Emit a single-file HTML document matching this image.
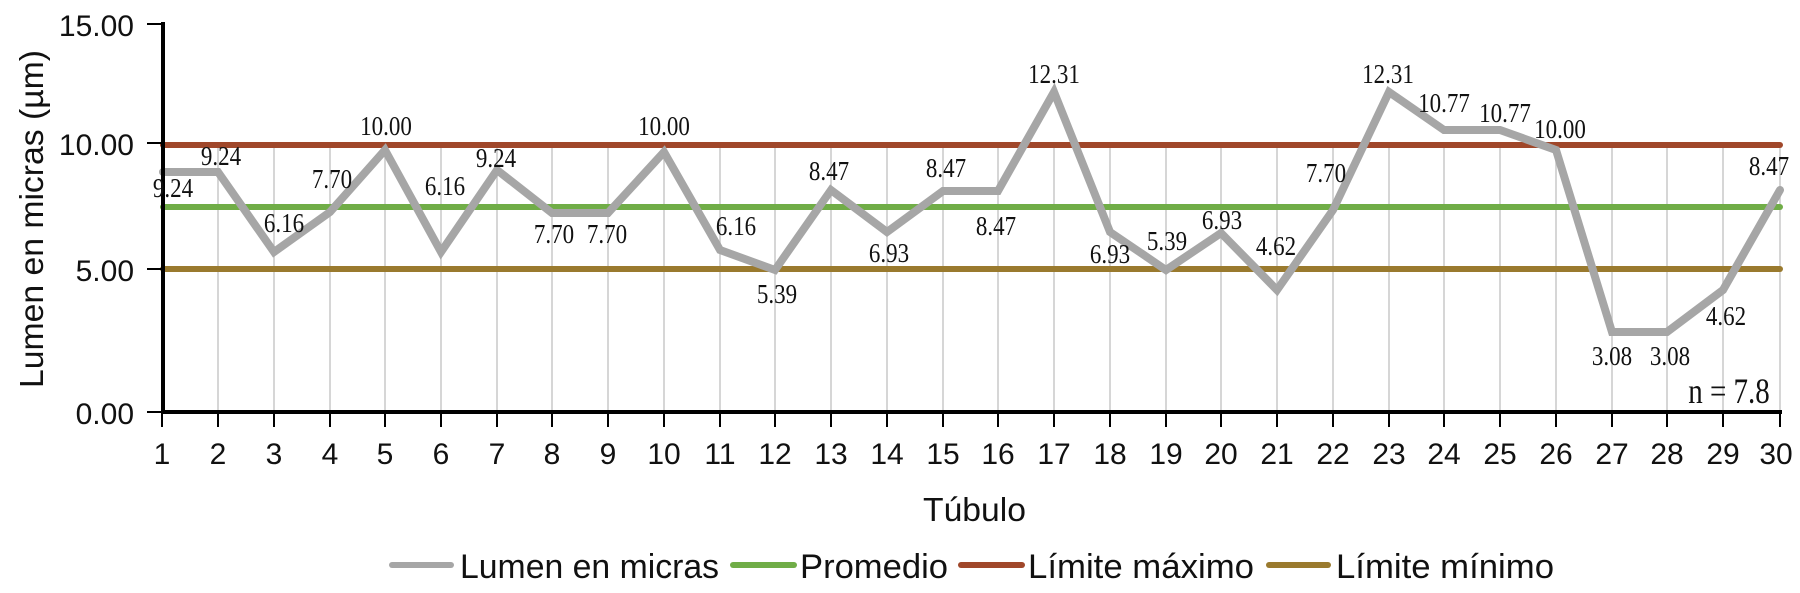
<!DOCTYPE html>
<html><head><meta charset="utf-8"><style>
html,body{margin:0;padding:0;background:#fff;}
svg{display:block;}
.s{font-family:"Liberation Sans",sans-serif;fill:#111;}
.d{font-family:"Liberation Serif",serif;font-size:23px;fill:#111;text-anchor:middle;}
</style></head><body>
<svg width="1800" height="593" viewBox="0 0 1800 593" xmlns="http://www.w3.org/2000/svg">
<g stroke="#c8c8c8" stroke-width="1.5">
<line x1="218" y1="148" x2="218" y2="412"/><line x1="274" y1="148" x2="274" y2="412"/><line x1="330" y1="148" x2="330" y2="412"/><line x1="385" y1="148" x2="385" y2="412"/><line x1="441" y1="148" x2="441" y2="412"/><line x1="497" y1="148" x2="497" y2="412"/><line x1="552" y1="148" x2="552" y2="412"/><line x1="608" y1="148" x2="608" y2="412"/><line x1="664" y1="148" x2="664" y2="412"/><line x1="720" y1="148" x2="720" y2="412"/><line x1="775" y1="148" x2="775" y2="412"/><line x1="831" y1="148" x2="831" y2="412"/><line x1="887" y1="148" x2="887" y2="412"/><line x1="943" y1="148" x2="943" y2="412"/><line x1="998" y1="148" x2="998" y2="412"/><line x1="1054" y1="148" x2="1054" y2="412"/><line x1="1110" y1="148" x2="1110" y2="412"/><line x1="1166" y1="148" x2="1166" y2="412"/><line x1="1221" y1="148" x2="1221" y2="412"/><line x1="1277" y1="148" x2="1277" y2="412"/><line x1="1333" y1="148" x2="1333" y2="412"/><line x1="1389" y1="148" x2="1389" y2="412"/><line x1="1444" y1="148" x2="1444" y2="412"/><line x1="1500" y1="148" x2="1500" y2="412"/><line x1="1556" y1="148" x2="1556" y2="412"/><line x1="1612" y1="148" x2="1612" y2="412"/><line x1="1667" y1="148" x2="1667" y2="412"/><line x1="1723" y1="148" x2="1723" y2="412"/><line x1="1780" y1="148" x2="1780" y2="412"/>
</g>
<g stroke-width="6" stroke-linecap="round">
<line x1="163" y1="145" x2="1780" y2="145" stroke="#a0472a"/>
<line x1="163" y1="207" x2="1780" y2="207" stroke="#70ad47"/>
<line x1="163" y1="269" x2="1780" y2="269" stroke="#9a7a2e"/>
</g>
<polyline fill="none" stroke="#a6a6a6" stroke-width="8" stroke-linejoin="miter" stroke-linecap="round" points="163,172 218,172 274,252 330,212 385,150 441,252 497,170 552,213 608,213 664,152 720,250 775,270 831,190 887,232 943,191 998,191 1054,92 1110,232 1166,270 1221,233 1277,290 1333,210 1389,92 1444,130 1500,130 1556,150 1612,332 1667,332 1723,290 1780,190"/>
<g stroke="#000">
<line x1="163" y1="22" x2="163" y2="414" stroke-width="4"/>
<line x1="161" y1="412" x2="1782" y2="412" stroke-width="4"/>
<g stroke-width="2">
<line x1="147" y1="24" x2="163" y2="24"/><line x1="147" y1="143" x2="163" y2="143"/><line x1="147" y1="269" x2="163" y2="269"/><line x1="147" y1="412" x2="163" y2="412"/>
<line x1="162" y1="412" x2="162" y2="427"/><line x1="218" y1="412" x2="218" y2="427"/><line x1="274" y1="412" x2="274" y2="427"/><line x1="330" y1="412" x2="330" y2="427"/><line x1="385" y1="412" x2="385" y2="427"/><line x1="441" y1="412" x2="441" y2="427"/><line x1="497" y1="412" x2="497" y2="427"/><line x1="552" y1="412" x2="552" y2="427"/><line x1="608" y1="412" x2="608" y2="427"/><line x1="664" y1="412" x2="664" y2="427"/><line x1="720" y1="412" x2="720" y2="427"/><line x1="775" y1="412" x2="775" y2="427"/><line x1="831" y1="412" x2="831" y2="427"/><line x1="887" y1="412" x2="887" y2="427"/><line x1="943" y1="412" x2="943" y2="427"/><line x1="998" y1="412" x2="998" y2="427"/><line x1="1054" y1="412" x2="1054" y2="427"/><line x1="1110" y1="412" x2="1110" y2="427"/><line x1="1166" y1="412" x2="1166" y2="427"/><line x1="1221" y1="412" x2="1221" y2="427"/><line x1="1277" y1="412" x2="1277" y2="427"/><line x1="1333" y1="412" x2="1333" y2="427"/><line x1="1389" y1="412" x2="1389" y2="427"/><line x1="1444" y1="412" x2="1444" y2="427"/><line x1="1500" y1="412" x2="1500" y2="427"/><line x1="1556" y1="412" x2="1556" y2="427"/><line x1="1612" y1="412" x2="1612" y2="427"/><line x1="1667" y1="412" x2="1667" y2="427"/><line x1="1723" y1="412" x2="1723" y2="427"/><line x1="1780" y1="412" x2="1780" y2="427"/>
</g></g>
<g class="s" font-size="30" text-anchor="end">
<text x="134" y="36">15.00</text><text x="134" y="155">10.00</text><text x="134" y="281">5.00</text><text x="134" y="424">0.00</text>
</g>
<g class="s" font-size="30" text-anchor="middle">
<text x="162" y="464">1</text><text x="218" y="464">2</text><text x="274" y="464">3</text><text x="330" y="464">4</text><text x="385" y="464">5</text><text x="441" y="464">6</text><text x="497" y="464">7</text><text x="552" y="464">8</text><text x="608" y="464">9</text><text x="664" y="464">10</text><text x="720" y="464">11</text><text x="775" y="464">12</text><text x="831" y="464">13</text><text x="887" y="464">14</text><text x="943" y="464">15</text><text x="998" y="464">16</text><text x="1054" y="464">17</text><text x="1110" y="464">18</text><text x="1166" y="464">19</text><text x="1221" y="464">20</text><text x="1277" y="464">21</text><text x="1333" y="464">22</text><text x="1389" y="464">23</text><text x="1444" y="464">24</text><text x="1500" y="464">25</text><text x="1556" y="464">26</text><text x="1612" y="464">27</text><text x="1667" y="464">28</text><text x="1723" y="464">29</text><text x="1776" y="464">30</text>
</g>
<text class="s" font-size="33" transform="translate(43,388) rotate(-90)" textLength="338" lengthAdjust="spacingAndGlyphs">Lumen en micras (µm)</text>
<text class="s" font-size="33" x="923" y="521" textLength="103" lengthAdjust="spacingAndGlyphs">Túbulo</text>
<g stroke-width="6" stroke-linecap="round">
<line x1="392" y1="565" x2="451" y2="565" stroke="#a6a6a6"/>
<line x1="733" y1="565" x2="794" y2="565" stroke="#70ad47"/>
<line x1="961" y1="565" x2="1022" y2="565" stroke="#a0472a"/>
<line x1="1269" y1="565" x2="1328" y2="565" stroke="#9a7a2e"/>
</g>
<g class="s" font-size="34">
<text x="460" y="578" textLength="259" lengthAdjust="spacingAndGlyphs">Lumen en micras</text>
<text x="800" y="578" textLength="148" lengthAdjust="spacingAndGlyphs">Promedio</text>
<text x="1028" y="578" textLength="226" lengthAdjust="spacingAndGlyphs">Límite máximo</text>
<text x="1336" y="578" textLength="218" lengthAdjust="spacingAndGlyphs">Límite mínimo</text>
</g>
<g class="d">
<text transform="translate(173,197) scale(1,1.2)">9.24</text>
<text transform="translate(221,165) scale(1,1.2)">9.24</text>
<text transform="translate(284,232) scale(1,1.2)">6.16</text>
<text transform="translate(332,188) scale(1,1.2)">7.70</text>
<text transform="translate(386,135) scale(1,1.2)">10.00</text>
<text transform="translate(445,195) scale(1,1.2)">6.16</text>
<text transform="translate(496,167) scale(1,1.2)">9.24</text>
<text transform="translate(554,243) scale(1,1.2)">7.70</text>
<text transform="translate(607,243) scale(1,1.2)">7.70</text>
<text transform="translate(664,135) scale(1,1.2)">10.00</text>
<text transform="translate(736,235) scale(1,1.2)">6.16</text>
<text transform="translate(777,303) scale(1,1.2)">5.39</text>
<text transform="translate(829,180) scale(1,1.2)">8.47</text>
<text transform="translate(889,262) scale(1,1.2)">6.93</text>
<text transform="translate(946,177) scale(1,1.2)">8.47</text>
<text transform="translate(996,235) scale(1,1.2)">8.47</text>
<text transform="translate(1054,83) scale(1,1.2)">12.31</text>
<text transform="translate(1110,263) scale(1,1.2)">6.93</text>
<text transform="translate(1167,250) scale(1,1.2)">5.39</text>
<text transform="translate(1222,229) scale(1,1.2)">6.93</text>
<text transform="translate(1276,255) scale(1,1.2)">4.62</text>
<text transform="translate(1326,182) scale(1,1.2)">7.70</text>
<text transform="translate(1388,83) scale(1,1.2)">12.31</text>
<text transform="translate(1444,112) scale(1,1.2)">10.77</text>
<text transform="translate(1505,122) scale(1,1.2)">10.77</text>
<text transform="translate(1560,138) scale(1,1.2)">10.00</text>
<text transform="translate(1612,365) scale(1,1.2)">3.08</text>
<text transform="translate(1670,365) scale(1,1.2)">3.08</text>
<text transform="translate(1726,325) scale(1,1.2)">4.62</text>
<text transform="translate(1769,175) scale(1,1.2)">8.47</text>
<text transform="translate(1729,403) scale(1,1.25)" font-size="29">n = 7.8</text>
</g>
</svg>
</body></html>
